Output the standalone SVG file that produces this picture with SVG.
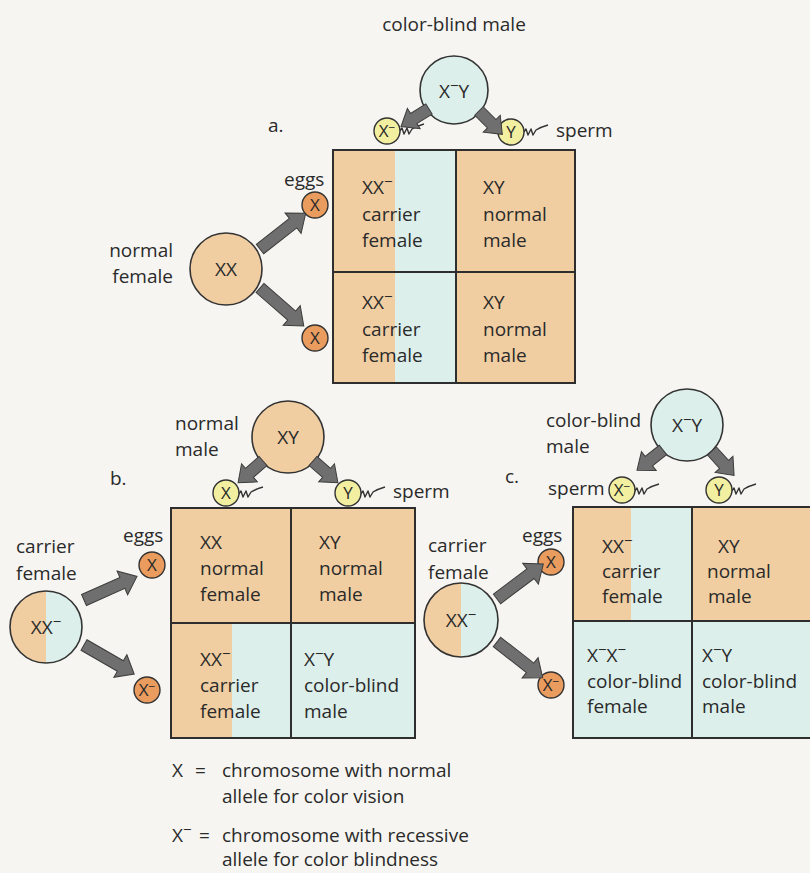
<svg xmlns="http://www.w3.org/2000/svg" xmlns:xlink="http://www.w3.org/1999/xlink" width="810" height="873" viewBox="0 0 810 873">
<defs>
<style>
text{font-family:"Open Sans","Noto Sans","Liberation Sans",sans-serif;font-size:19px;fill:#2a2a2a}
.c{text-anchor:middle}
.e{text-anchor:end}
.s{font-size:15px;baseline-shift:7px}
.ss{font-size:12px;baseline-shift:5px}
.org{fill:#f0cea2}
.blu{fill:#dcefeb}
.ring{fill:none;stroke:#333;stroke-width:1.6}
.egg{fill:#e99c5e;stroke:#333;stroke-width:1.4}
.sperm{fill:#f2f0a0;stroke:#333;stroke-width:1.4}
.gt{font-size:17px}
.grid{fill:none;stroke:#2e2e2e;stroke-width:2}
.arr{fill:#6f6f6f;stroke:#3c3c3c;stroke-width:1}
.tail{fill:none;stroke:#333;stroke-width:1.4;stroke-linejoin:round}
</style>
<path id="longArrow" d="M0,-6 L42,-6 L42,-13 L58,0 L42,13 L42,6 L0,6 Z"/>
<path id="shortArrow" d="M0,-6 L18,-6 L18,-12 L33,0 L18,12 L18,6 L0,6 Z"/>
<path id="tailPath" d="M0,0 l3,-4 l2,6 l3,-6 l2,6 l3,-5 q5,-3 12,-5"/>
</defs>
<rect width="810" height="873" fill="#f6f5f1"/>

<!-- ===== Panel a ===== -->
<g id="panel-a-label"><text x="268" y="132">a.</text></g>
<g id="a-male">
<text class="c" x="454" y="31">color-blind male</text>
<circle cx="454" cy="90" r="34" class="blu"/>
<circle cx="454" cy="90" r="34" class="ring"/>
<text class="c" x="454" y="98">X<tspan class="s">−</tspan>Y</text>
</g>
<g id="a-sperm-x">
<use xlink:href="#tailPath" class="tail" transform="translate(399,132)"/>
<circle cx="387" cy="131" r="13" class="sperm"/>
<text class="c gt" x="387" y="137">X<tspan class="ss">−</tspan></text>
</g>
<g id="a-sperm-y">
<use xlink:href="#tailPath" class="tail" transform="translate(523,133)"/>
<circle cx="511" cy="132" r="13" class="sperm"/>
<text class="c gt" x="511" y="138">Y</text>
<text x="556" y="137">sperm</text>
</g>
<g id="a-female">
<text class="e" x="173" y="257">normal</text>
<text class="e" x="173" y="283">female</text>
<circle cx="226" cy="269" r="36" class="org"/>
<circle cx="226" cy="269" r="36" class="ring"/>
<text class="c" x="226" y="276">XX</text>
</g>
<g id="a-egg-1">
<text x="284" y="186">eggs</text>
<circle cx="315" cy="205" r="13" class="egg"/>
<text class="c gt" x="315" y="211">X</text>
</g>
<g id="a-egg-2">
<circle cx="315" cy="338" r="13" class="egg"/>
<text class="c gt" x="315" y="344">X</text>
</g>
<g id="a-square">
<rect x="333" y="150" width="62" height="233" class="org"/>
<rect x="395" y="150" width="61" height="233" class="blu"/>
<rect x="456" y="150" width="119" height="233" class="org"/>
<rect x="333" y="150" width="242" height="233" class="grid"/>
<line x1="456" y1="150" x2="456" y2="383" class="grid"/>
<line x1="333" y1="272" x2="575" y2="272" class="grid"/>
<text x="362" y="194">XX<tspan class="s">−</tspan></text>
<text x="362" y="221">carrier</text>
<text x="362" y="247">female</text>
<text x="483" y="194">XY</text>
<text x="483" y="221">normal</text>
<text x="483" y="247">male</text>
<text x="362" y="309">XX<tspan class="s">−</tspan></text>
<text x="362" y="336">carrier</text>
<text x="362" y="362">female</text>
<text x="483" y="309">XY</text>
<text x="483" y="336">normal</text>
<text x="483" y="362">male</text>
</g>

<!-- ===== Panel b ===== -->
<g id="panel-b-label"><text x="110" y="485">b.</text></g>
<g id="b-male">
<text x="175" y="430">normal</text>
<text x="175" y="456">male</text>
<circle cx="288" cy="437" r="36" class="org"/>
<circle cx="288" cy="437" r="36" class="ring"/>
<text class="c" x="288" y="444">XY</text>
</g>
<g id="b-sperm-x">
<use xlink:href="#tailPath" class="tail" transform="translate(238,495)"/>
<circle cx="226" cy="493" r="13" class="sperm"/>
<text class="c gt" x="226" y="499">X</text>
</g>
<g id="b-sperm-y">
<use xlink:href="#tailPath" class="tail" transform="translate(360,495)"/>
<circle cx="348" cy="493" r="13" class="sperm"/>
<text class="c gt" x="348" y="499">Y</text>
<text x="393" y="498">sperm</text>
</g>
<g id="b-female">
<text x="16" y="553">carrier</text>
<text x="16" y="580">female</text>
<path d="M46,591 A36,36 0 0 0 46,663 Z" class="org"/>
<path d="M46,591 A36,36 0 0 1 46,663 Z" class="blu"/>
<circle cx="46" cy="627" r="36" class="ring"/>
<text class="c" x="46" y="634">XX<tspan class="s">−</tspan></text>
</g>
<g id="b-egg-1">
<text x="123" y="542">eggs</text>
<circle cx="152" cy="565" r="13" class="egg"/>
<text class="c gt" x="152" y="571">X</text>
</g>
<g id="b-egg-2">
<circle cx="147" cy="690" r="13" class="egg"/>
<text class="c gt" x="147" y="696">X<tspan class="ss">−</tspan></text>
</g>
<g id="b-square">
<rect x="171" y="508" width="244" height="115" class="org"/>
<rect x="171" y="623" width="61" height="115" class="org"/>
<rect x="232" y="623" width="183" height="115" class="blu"/>
<rect x="171" y="508" width="244" height="230" class="grid"/>
<line x1="291" y1="508" x2="291" y2="738" class="grid"/>
<line x1="171" y1="623" x2="415" y2="623" class="grid"/>
<text x="200" y="549">XX</text>
<text x="200" y="575">normal</text>
<text x="200" y="601">female</text>
<text x="319" y="549">XY</text>
<text x="319" y="575">normal</text>
<text x="319" y="601">male</text>
<text x="200" y="666">XX<tspan class="s">−</tspan></text>
<text x="200" y="692">carrier</text>
<text x="200" y="718">female</text>
<text x="304" y="666">X<tspan class="s">−</tspan>Y</text>
<text x="304" y="692">color-blind</text>
<text x="304" y="718">male</text>
</g>

<!-- ===== Panel c ===== -->
<g id="panel-c-label"><text x="505" y="483">c.</text></g>
<g id="c-male">
<text x="546" y="427">color-blind</text>
<text x="546" y="453">male</text>
<circle cx="687" cy="425" r="36" class="blu"/>
<circle cx="687" cy="425" r="36" class="ring"/>
<text class="c" x="687" y="432">X<tspan class="s">−</tspan>Y</text>
</g>
<g id="c-sperm-x">
<text x="548" y="495">sperm</text>
<use xlink:href="#tailPath" class="tail" transform="translate(634,492)"/>
<circle cx="622" cy="490" r="13" class="sperm"/>
<text class="c gt" x="622" y="496">X<tspan class="ss">−</tspan></text>
</g>
<g id="c-sperm-y">
<use xlink:href="#tailPath" class="tail" transform="translate(731,492)"/>
<circle cx="719" cy="490" r="13" class="sperm"/>
<text class="c gt" x="719" y="496">Y</text>
</g>
<g id="c-female">
<text x="428" y="552">carrier</text>
<text x="428" y="579">female</text>
<path d="M461,583 A37,37 0 0 0 461,657 Z" class="org"/>
<path d="M461,583 A37,37 0 0 1 461,657 Z" class="blu"/>
<circle cx="461" cy="620" r="37" class="ring"/>
<text class="c" x="461" y="627">XX<tspan class="s">−</tspan></text>
</g>
<g id="c-egg-1">
<text x="522" y="542">eggs</text>
<circle cx="551" cy="562" r="13" class="egg"/>
<text class="c gt" x="551" y="568">X</text>
</g>
<g id="c-egg-2">
<circle cx="551" cy="685" r="13" class="egg"/>
<text class="c gt" x="551" y="691">X<tspan class="ss">−</tspan></text>
</g>
<g id="c-square">
<rect x="573" y="507" width="58" height="114" class="org"/>
<rect x="631" y="507" width="61" height="114" class="blu"/>
<rect x="692" y="507" width="125" height="114" class="org"/>
<rect x="573" y="621" width="244" height="117" class="blu"/>
<rect x="573" y="507" width="244" height="231" class="grid"/>
<line x1="692" y1="507" x2="692" y2="738" class="grid"/>
<line x1="573" y1="621" x2="817" y2="621" class="grid"/>
<text x="602" y="553">XX<tspan class="s">−</tspan></text>
<text x="602" y="578">carrier</text>
<text x="602" y="603">female</text>
<text x="718" y="553">XY</text>
<text x="707" y="578">normal</text>
<text x="708" y="603">male</text>
<text x="587" y="662">X<tspan class="s">−</tspan>X<tspan class="s">−</tspan></text>
<text x="587" y="688">color-blind</text>
<text x="587" y="713">female</text>
<text x="702" y="662">X<tspan class="s">−</tspan>Y</text>
<text x="702" y="688">color-blind</text>
<text x="702" y="713">male</text>
</g>

<!-- ===== Connectors (gray block arrows) ===== -->
<g id="connectors">
<use xlink:href="#shortArrow" class="arr" transform="translate(429,109) rotate(148)"/>
<use xlink:href="#shortArrow" class="arr" transform="translate(479,111) rotate(45)"/>
<use xlink:href="#longArrow" class="arr" transform="translate(260,249) rotate(-38)"/>
<use xlink:href="#longArrow" class="arr" transform="translate(260,288) rotate(41)"/>
<use xlink:href="#shortArrow" class="arr" transform="translate(263,461) rotate(139)"/>
<use xlink:href="#shortArrow" class="arr" transform="translate(313,461) rotate(41)"/>
<use xlink:href="#longArrow" class="arr" transform="translate(84,600) rotate(-24)"/>
<use xlink:href="#longArrow" class="arr" transform="translate(84,645) rotate(30)"/>
<use xlink:href="#shortArrow" class="arr" transform="translate(663,450) rotate(142)"/>
<use xlink:href="#shortArrow" class="arr" transform="translate(712,451) rotate(48)"/>
<use xlink:href="#longArrow" class="arr" transform="translate(497,599) rotate(-37)"/>
<use xlink:href="#longArrow" class="arr" transform="translate(497,642) rotate(38)"/>
</g>

<!-- ===== Legend ===== -->
<g id="legend">
<text x="172" y="777">X</text>
<text x="195" y="777">=</text>
<text x="222" y="777">chromosome with normal</text>
<text x="222" y="803">allele for color vision</text>
<text x="172" y="842">X<tspan class="s">−</tspan></text>
<text x="199" y="842">=</text>
<text x="222" y="842">chromosome with recessive</text>
<text x="222" y="866">allele for color blindness</text>
</g>
</svg>
